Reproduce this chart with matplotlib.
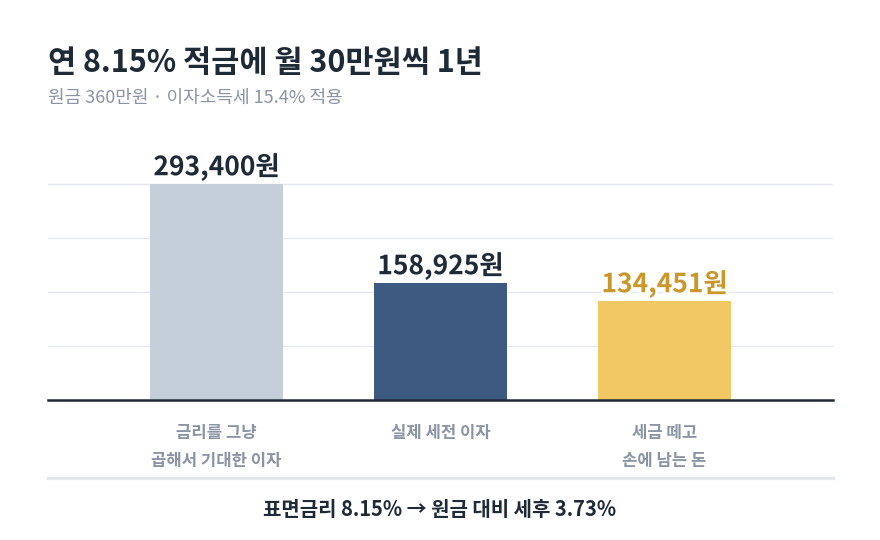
"""Bar chart: what an 8.15% savings account really pays after a year of 300,000 won a month."""

import matplotlib
matplotlib.use("Agg")
import matplotlib.pyplot as plt
import matplotlib.patheffects as pe
from matplotlib.lines import Line2D

plt.rcParams["font.family"] = ["Noto Sans CJK KR", "DejaVu Sans"]

# -----------------------------------------------------------------------------
# Data
# -----------------------------------------------------------------------------
categories = ["금리를 그냥\n곱해서 기대한 이자", "실제 세전 이자", "세금 떼고\n손에 남는 돈"]
interest_won = [293400, 158925, 134451]

TITLE = "연 8.15% 적금에 월 30만원씩 1년"
SUBTITLE = "원금 360만원 · 이자소득세 15.4% 적용"
FOOTER = "표면금리 8.15% → 원금 대비 세후 3.73%"

BAR_COLORS = ["#C5CFDA", "#3D5A80", "#F2C865"]
LABEL_COLORS = ["#1F2A37", "#1F2A37", "#C9972A"]
DARK = "#1F2A37"
GREY = "#8A94A3"
GRID = "#E5E9EF"

# -----------------------------------------------------------------------------
# Plot
# -----------------------------------------------------------------------------
fig = plt.figure(figsize=(8.8, 5.4), dpi=100)
fig.patch.set_facecolor("white")
ax = fig.add_axes([48 / 880, 1 - 400 / 540, 785 / 880, 260 / 540])

top = max(interest_won)
positions = range(len(categories))
ax.bar(positions, interest_won, width=0.594, color=BAR_COLORS, zorder=2)

ax.set_xlim(-0.752, len(categories) - 1 + 0.752)
ax.set_ylim(0, top * 260 / 216)
ax.set_yticks([top * k / 4 for k in range(1, 5)])
ax.yaxis.grid(True, color=GRID, linewidth=1.0, zorder=0)
ax.tick_params(axis="y", left=False, labelleft=False)

ax.set_xticks(list(positions))
ax.set_xticklabels(categories, fontsize=12, fontweight="bold", color=GREY, linespacing=1.75)
ax.tick_params(axis="x", length=0, pad=17)

for side in ["top", "right", "left"]:
    ax.spines[side].set_visible(False)
ax.spines["bottom"].set_color(DARK)
ax.spines["bottom"].set_linewidth(1.8)
ax.spines["bottom"].set_zorder(3)

for x, value, color in zip(positions, interest_won, LABEL_COLORS):
    ax.annotate(f"{value:,}원", xy=(x, value), xytext=(0, 2), textcoords="offset points",
                ha="center", va="bottom", fontsize=19, fontweight="bold", color=color,
                path_effects=[pe.withStroke(linewidth=4, foreground="white")], zorder=4)

fig.text(48 / 880, 1 - 63 / 540, TITLE, fontsize=22, fontweight="bold", color=DARK,
         ha="left", va="center")
fig.text(48 / 880, 1 - 98 / 540, SUBTITLE, fontsize=13, color=GREY, ha="left", va="center")

fig.add_artist(Line2D([48 / 880, 833 / 880], [1 - 478 / 540, 1 - 478 / 540],
                      transform=fig.transFigure, color="#E3E8EE", linewidth=2.4))
fig.text(440 / 880, 1 - 510 / 540, FOOTER, fontsize=14.4, fontweight="bold", color=DARK,
         ha="center", va="center")

fig.savefig("out.png", dpi=100)
